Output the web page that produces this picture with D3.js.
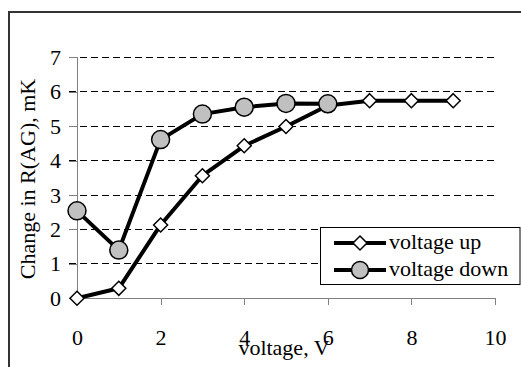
<!DOCTYPE html>
<html>
<head>
<meta charset="utf-8">
<script src="https://cdn.jsdelivr.net/npm/d3@7"></script>
<style>
  body { margin: 0; background: #fff; }
  svg text { font-family: "Liberation Serif", "Times New Roman", Times, serif !important; }
</style>
</head>
<body>
<div id="chart"></div>
<script>
// data
const voltageUpX = [0, 1, 2, 3, 4, 5, 6, 7, 8, 9];
const voltageUpY = [0, 0.29, 2.13, 3.56, 4.43, 4.99, 5.6, 5.74, 5.74, 5.74];
const voltageDownX = [0, 1, 2, 3, 4, 5, 6];
const voltageDownY = [2.54, 1.4, 4.61, 5.35, 5.55, 5.66, 5.65];
const xTicks = [0, 2, 4, 6, 8, 10];
const yTicks = [0, 1, 2, 3, 4, 5, 6, 7];
const seriesNames = ["voltage up", "voltage down"];

const width = 521, height = 367;
const margin = { top: 57.3, right: 26, bottom: 68.7, left: 77 };
const fontSize = 22;

const svg = d3.select("#chart").append("svg")
    .attr("width", width)
    .attr("height", height)
    .style("display", "block");

// outer frame (only top and left edges fall inside the picture)
svg.append("path")
    .attr("d", `M9,367 V12 H521`)
    .attr("fill", "none")
    .attr("stroke", "#333")
    .attr("stroke-width", 2);

const x = d3.scaleLinear().domain([0, 10]).range([margin.left, width - margin.right]);
const y = d3.scaleLinear().domain([0, 7]).range([height - margin.bottom, margin.top]);

// dashed grid
svg.append("g")
    .attr("shape-rendering", "crispEdges")
    .selectAll("line")
    .data(yTicks.filter(d => d > 0))
    .join("line")
    .attr("x1", x(0) - 8)
    .attr("x2", x(10))
    .attr("y1", d => y(d))
    .attr("y2", d => y(d))
    .attr("stroke", "#000")
    .attr("stroke-width", 1)
    .attr("stroke-dasharray", "7,4");

// y axis
svg.append("g")
    .attr("transform", `translate(${x(0)},0)`)
    .attr("shape-rendering", "crispEdges")
    .call(d3.axisLeft(y).tickValues(yTicks).tickSize(8).tickPadding(8).tickFormat(d3.format("d")))
    .call(g => g.select(".domain").attr("stroke", "#808080"))
    .call(g => g.selectAll(".tick line").attr("stroke", "#808080"))
    .call(g => g.selectAll(".tick text")
        .attr("font-size", fontSize)
        .attr("fill", "#000"));

// x axis
svg.append("g")
    .attr("transform", `translate(0,${y(0)})`)
    .attr("shape-rendering", "crispEdges")
    .call(d3.axisBottom(x).tickValues(xTicks).tickSize(7).tickSizeOuter(0).tickPadding(24).tickFormat(d3.format("d")))
    .call(g => g.select(".domain").attr("stroke", "#808080"))
    .call(g => g.selectAll(".tick line").attr("stroke", "#808080"))
    .call(g => g.selectAll(".tick text")
        .attr("font-size", fontSize)
        .attr("fill", "#000"));

// axis titles
svg.append("text")
    .attr("x", 284)
    .attr("y", 355)
    .attr("text-anchor", "middle")
    .attr("font-size", fontSize)
    .text("voltage, V");

svg.append("text")
    .attr("transform", `translate(35,179) rotate(-90)`)
    .attr("text-anchor", "middle")
    .attr("font-size", fontSize)
    .text("Change in R(AG), mK");

const line = d3.line().x(d => x(d[0])).y(d => y(d[1]));

const upData = voltageUpX.map((v, i) => [v, voltageUpY[i]]);
const downData = voltageDownX.map((v, i) => [v, voltageDownY[i]]);

const diamond = r => `M0,${-r} L${r},0 L0,${r} L${-r},0 Z`;

// voltage up
svg.append("path")
    .datum(upData)
    .attr("d", line)
    .attr("fill", "none")
    .attr("stroke", "#000")
    .attr("stroke-width", 4)
    .attr("stroke-linejoin", "round");

svg.append("g")
    .selectAll("path")
    .data(upData)
    .join("path")
    .attr("transform", d => `translate(${x(d[0])},${y(d[1])})`)
    .attr("d", diamond(7))
    .attr("fill", "#fff")
    .attr("stroke", "#000")
    .attr("stroke-width", 1.5);

// voltage down
svg.append("path")
    .datum(downData)
    .attr("d", line)
    .attr("fill", "none")
    .attr("stroke", "#000")
    .attr("stroke-width", 4)
    .attr("stroke-linejoin", "round");

svg.append("g")
    .selectAll("circle")
    .data(downData)
    .join("circle")
    .attr("cx", d => x(d[0]))
    .attr("cy", d => y(d[1]))
    .attr("r", 9)
    .attr("fill", "#c0c0c0")
    .attr("stroke", "#000")
    .attr("stroke-width", 1.5);

// legend
const legend = svg.append("g");
legend.append("rect")
    .attr("x", 320.5)
    .attr("y", 227.5)
    .attr("width", 199.5)
    .attr("height", 57)
    .attr("fill", "#fff")
    .attr("stroke", "#000")
    .attr("stroke-width", 1);

const rows = legend.selectAll("g.row")
    .data(seriesNames)
    .join("g")
    .attr("class", "row")
    .attr("transform", (d, i) => `translate(0,${243 + i * 27})`);

rows.append("line")
    .attr("x1", 334)
    .attr("x2", 386)
    .attr("stroke", "#000")
    .attr("stroke-width", 4);

rows.filter((d, i) => i === 0).append("path")
    .attr("transform", "translate(360,0)")
    .attr("d", diamond(7))
    .attr("fill", "#fff")
    .attr("stroke", "#000")
    .attr("stroke-width", 1.5);

rows.filter((d, i) => i === 1).append("circle")
    .attr("cx", 360)
    .attr("r", 8.5)
    .attr("fill", "#c0c0c0")
    .attr("stroke", "#000")
    .attr("stroke-width", 1.5);

rows.append("text")
    .attr("x", 389)
    .attr("y", 6)
    .attr("font-size", fontSize)
    .text(d => d);
</script>
</body>
</html>
